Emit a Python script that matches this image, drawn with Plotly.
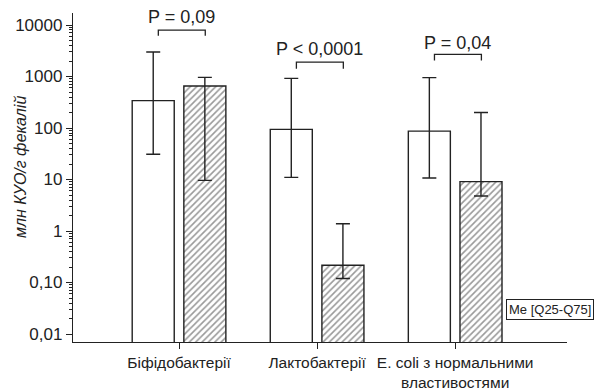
import numpy as np
import plotly.graph_objects as go

categories = ["Біфідобактерії", "Лактобактерії", "E. coli з нормальними<br>властивостями"]
x_pos = [0, 1, 2]

median_a = [340, 94, 87]
q25_a = [31, 11, 10.7]
q75_a = [3000, 920, 950]

median_b = [655, 0.216, 9.1]
q25_b = [9.6, 0.12, 4.8]
q75_b = [960, 1.38, 200]

p_labels = ["P = 0,09", "P < 0,0001", "P = 0,04"]
bracket_top = [7943, 1905, 2692]
bracket_foot = [6166, 1413, 2042]
p_text_y = [14500, 3373, 4416]

ytick_vals = [0.01, 0.1, 1, 10, 100, 1000, 10000]
ytick_text = ["0,01", "0,10", "1", "10", "100", "1000", "10000"]

FONT = "Liberation Sans, Arial, sans-serif"
INK = "#222222"

def err(med, lo, hi):
    return dict(type="data", symmetric=False,
                array=[h - m for m, h in zip(med, hi)],
                arrayminus=[m - l for m, l in zip(med, lo)],
                color=INK, thickness=1.4, width=7)

fig = go.Figure()
fig.add_trace(go.Bar(
    x=x_pos, y=median_a, name="A",
    marker=dict(color="white", line=dict(color=INK, width=1.4)),
    error_y=err(median_a, q25_a, q75_a),
))
fig.add_trace(go.Bar(
    x=x_pos, y=median_b, name="B",
    marker=dict(color="white", line=dict(color=INK, width=1.4),
                pattern=dict(shape="/", fgcolor="#333333", bgcolor="white",
                             size=4.5, solidity=0.35)),
    error_y=err(median_b, q25_b, q75_b),
))

# significance brackets
left_off, right_off = -0.15, 0.19
for i, (top, foot) in enumerate(zip(bracket_top, bracket_foot)):
    fig.add_trace(go.Scatter(
        x=[i + left_off, i + left_off, i + right_off, i + right_off],
        y=[foot, top, top, foot],
        mode="lines", line=dict(color=INK, width=1.3),
        showlegend=False, hoverinfo="skip",
    ))

annotations = []
for i, (lab, ty) in enumerate(zip(p_labels, p_text_y)):
    annotations.append(dict(
        x=i + (left_off + right_off) / 2, y=np.log10(ty), xref="x", yref="y",
        text=lab, showarrow=False, font=dict(family=FONT, size=18, color=INK),
        xanchor="center", yanchor="middle",
    ))

# y axis title
annotations.append(dict(
    x=(20 - 73) / 494, y=(342 - 167) / 329, xref="paper", yref="paper",
    text="<i>млн КУО/г фекалій</i>", textangle=-90, showarrow=False,
    font=dict(family=FONT, size=16, color=INK), xanchor="center", yanchor="middle",
))

# key box
annotations.append(dict(
    x=(550 - 73) / 494, y=(342 - 309.7) / 329, xref="paper", yref="paper",
    text="Me [Q25-Q75]", showarrow=False,
    font=dict(family=FONT, size=13, color=INK),
    bordercolor=INK, borderwidth=1, borderpad=2, bgcolor="white",
    xanchor="center", yanchor="middle",
))

minor_vals = [m * 10.0 ** e for e in range(-2, 4) for m in range(2, 10)]

fig.update_layout(
    width=595, height=390,
    margin=dict(l=73, r=28, t=13, b=48, autoexpand=False),
    paper_bgcolor="white", plot_bgcolor="white",
    barmode="group", bargap=0.252, bargroupgap=0.186,
    showlegend=False,
    font=dict(family=FONT, size=16, color=INK),
    annotations=annotations,
    xaxis=dict(
        range=[-0.768, 2.81], tickvals=x_pos, ticktext=categories,
        showline=True, linecolor=INK, linewidth=1.3,
        ticks="outside", ticklen=6, tickcolor=INK, tickwidth=1.3,
        showgrid=False, zeroline=False, automargin=False,
        tickfont=dict(family=FONT, size=15.5, color=INK),
    ),
    yaxis=dict(
        type="log", range=[-2.155, 4.233],
        tickvals=ytick_vals, ticktext=ytick_text,
        showline=True, linecolor=INK, linewidth=1.3,
        ticks="outside", ticklen=6, tickcolor=INK, tickwidth=1.3,
        showgrid=False, zeroline=False, automargin=False,
        tickfont=dict(family=FONT, size=17, color=INK),
        minor=dict(tickvals=minor_vals, ticks="outside", ticklen=3,
                   tickcolor=INK, tickwidth=1, showgrid=False),
    ),
)

fig.write_html("out.html")
